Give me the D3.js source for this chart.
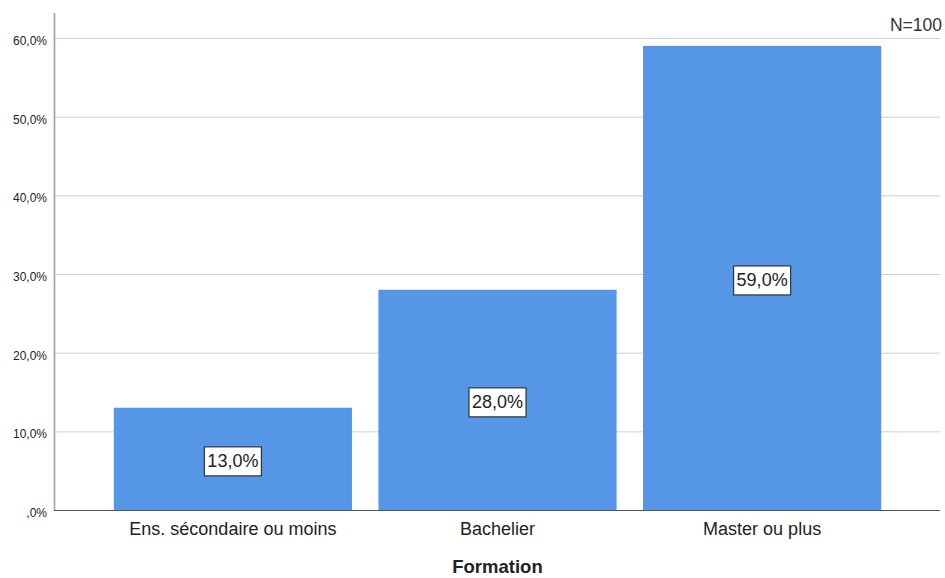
<!DOCTYPE html>
<html><head><meta charset="utf-8">
<script src="https://cdn.jsdelivr.net/npm/d3@7"></script>
<style>body{margin:0;background:#fff}svg{display:block}text{font-family:Arial,"Liberation Sans",sans-serif}</style>
</head><body>
<script>
const categories = ["Ens. sécondaire ou moins", "Bachelier", "Master ou plus"];
const values = [13.0, 28.0, 59.0];
const yTicks = [0, 10, 20, 30, 40, 50, 60];
const xTitle = "Formation";
const nLabel = "N=100";

(function () {
const W = 945, H = 578;
const mLeft = 54, mRight = 941, mTop = 13, mBottom = 510;
const svg = d3.select("body").append("svg").attr("width", W).attr("height", H);

const y = d3.scaleLinear().domain([0, 60]).range([mBottom, 38]);
const x = d3.scaleBand().domain(categories).range([mLeft, mRight]).paddingInner(0.1).paddingOuter(0.226);

const fmtLab = v => (v === 0 ? ",0" : d3.format(".1f")(v).replace(".", ",")) + "%";

// gridlines
svg.append("g").selectAll("line").data(yTicks.filter(t => t > 0)).join("line")
  .attr("x1", mLeft).attr("x2", mRight - 1).attr("y1", d => y(d) + 0.5).attr("y2", d => y(d) + 0.5)
  .attr("stroke", "#cfcfcf").attr("stroke-width", 1);

// bars
svg.append("g").selectAll("rect").data(values).join("rect")
  .attr("x", (d, i) => x(categories[i])).attr("width", x.bandwidth())
  .attr("y", d => y(d)).attr("height", d => mBottom - y(d))
  .attr("fill", "#5596e6");

// y axis
const yAxis = d3.axisLeft(y).tickValues(yTicks).tickSize(0).tickPadding(7).tickFormat(fmtLab);
const gy = svg.append("g").attr("transform", `translate(${mLeft},0)`).call(yAxis);
gy.select(".domain").remove();
gy.selectAll("text").attr("font-size", 12).attr("fill", "#222").attr("dy", "0.55em");
svg.append("line").attr("x1", mLeft + 0.5).attr("x2", mLeft + 0.5).attr("y1", mTop).attr("y2", mBottom)
  .attr("stroke", "#a0a0a0").attr("stroke-width", 1.6);

// x axis
const xAxis = d3.axisBottom(x).tickSize(0).tickPadding(12);
const gx = svg.append("g").attr("transform", `translate(0,${mBottom})`).call(xAxis);
gx.select(".domain").remove();
gx.selectAll("text").attr("font-size", 18).attr("fill", "#222");
svg.append("line").attr("x1", mLeft).attr("x2", mRight - 1).attr("y1", mBottom + 0.5).attr("y2", mBottom + 0.5)
  .attr("stroke", "#555").attr("stroke-width", 1);

// value labels
const lab = svg.append("g").selectAll("g").data(values).join("g")
  .attr("transform", (d, i) => `translate(${x(categories[i]) + x.bandwidth() / 2},${(y(d) + mBottom) / 2 + 1.5})`);
lab.each(function(d) {
  const g = d3.select(this);
  const t = g.append("text").attr("text-anchor", "middle").attr("dy", "0.36em")
    .attr("font-size", 18).attr("fill", "#222").text(fmtLab(d));
  const bb = t.node().getBBox();
  g.insert("rect", "text").attr("x", bb.x - 3).attr("y", -13.5).attr("width", bb.width + 6).attr("height", 29)
    .attr("fill", "#fff").attr("stroke", "#333").attr("stroke-width", 1.2);
});

// titles
svg.append("text").attr("x", (mLeft + mRight) / 2).attr("y", 573).attr("text-anchor", "middle")
  .attr("font-size", 18.5).attr("font-weight", "bold").attr("fill", "#222").text(xTitle);
svg.append("text").attr("x", 942).attr("y", 31).attr("text-anchor", "end")
  .attr("font-size", 17.5).attr("fill", "#333").text(nLabel);
})();
</script>
</body></html>
